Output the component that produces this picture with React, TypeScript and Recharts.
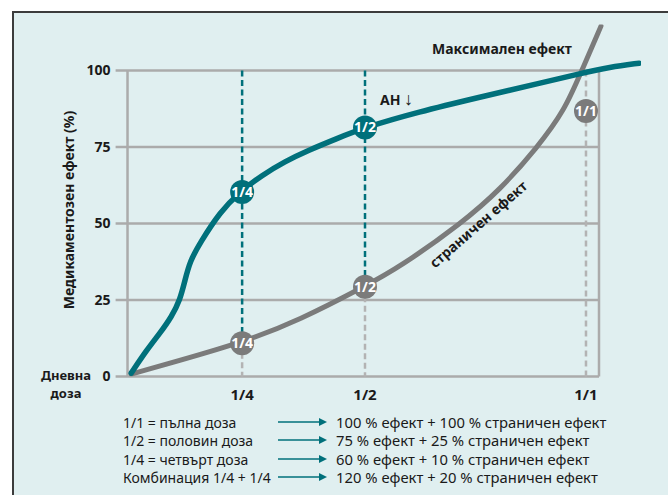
import React from "react";
import { LineChart, Line, XAxis, YAxis, ReferenceLine, ReferenceDot } from "recharts";

// x = daily dose (position on the schematic axis), y = drug effect in %
const doseTicks = [0.25, 0.518, 1];
const doseLabels = ["1/4", "1/2", "1/1"];
const effectTicks = [0, 25, 50, 75, 100];

const effectDose = [0.008, 0.042, 0.071, 0.096, 0.1145, 0.1254, 0.1363, 0.158, 0.2017, 0.245, 0.2933, 0.3435, 0.394, 0.457, 0.518, 0.633, 0.769, 0.9, 0.987, 1.052, 1.116];
const effectValue = [1.1, 8.7, 14.2, 19.5, 25, 31.5, 37.7, 43.6, 53.8, 60.3, 65.8, 70.3, 73.9, 77.8, 81.4, 86.4, 91.3, 95.9, 99, 101.1, 102.4];

const sideDose = [0.008, 0.2497, 0.376, 0.5158, 0.5943, 0.7296, 0.8124, 0.8931, 0.9542, 0.9913, 1.0327];
const sideValue = [0.8, 10.9, 18.5, 29.3, 35.8, 50.2, 61, 74.7, 87.1, 100.2, 114.5];

const markerDose = [0.25, 0.518];
const markerLabels = ["1/4", "1/2"];
const markerEffect = [60.3, 81.4];
const markerSide = [10.9, 29.3];
const fullDoseSide = 86.8;

const legendLeft = ["1/1 = пълна доза", "1/2 = половин доза", "1/4 = четвърт доза", "Комбинация 1/4 + 1/4"];
const legendRight = [
  "100 % ефект + 100 % страничен ефект",
  "75 % ефект + 25 % страничен ефект",
  "60 % ефект + 10 % страничен ефект",
  "120 % ефект + 20 % страничен ефект",
];

const effectData = effectDose.map((d, i) => ({ dose: d, v: effectValue[i] }));
const sideData = sideDose.map((d, i) => ({ dose: d, v: sideValue[i] }));

const TEAL = "#00707b";
const GREY = "#7b7b7b";
const GRID = "#ababab";
const FONT = "'Noto Sans', 'Liberation Sans', sans-serif";
const X_MIN = -0.026;
const X_END = 1.0284;

const bold = { fontFamily: FONT, fontWeight: 700, fontSize: 14, fill: "#1a1a1a" };
const dotLabel = { position: "center" as const, fill: "#fff", fontFamily: FONT, fontWeight: 700, fontSize: 14 };

export default function App() {
  return (
    <div lang="bg" style={{ position: "absolute", left: 0, top: 0, width: 668, height: 495, background: "#fff", overflow: "hidden", fontFamily: FONT }}>
      <div style={{ position: "absolute", left: 12, top: 11, width: 700, height: 600, border: "2px solid #3c3c3c", background: "#e0eff0" }} />
      <div style={{ position: "absolute", left: 0, top: 0 }}>
        <LineChart width={668} height={495} margin={{ top: 24.6, right: 27, bottom: 88.5, left: 55.6 }}>
          <XAxis
            type="number"
            dataKey="dose"
            domain={[X_MIN, 1.12]}
            ticks={doseTicks}
            tickFormatter={(v: number) => doseLabels[doseTicks.indexOf(v)]}
            axisLine={false}
            tickLine={false}
            tickMargin={7}
            height={30}
            allowDataOverflow
            tick={{ ...bold, fontSize: 15 }}
          />
          <YAxis
            type="number"
            dataKey="v"
            domain={[0, 115]}
            ticks={effectTicks}
            axisLine={false}
            tickLine={false}
            tickSize={0}
            tickMargin={5}
            width={60}
            allowDataOverflow
            tick={bold}
          />
          {effectTicks.map((t) => (
            <ReferenceLine key={t} segment={[{ x: X_MIN, y: t }, { x: X_END, y: t }]} stroke={GRID} strokeWidth={2.5} />
          ))}
          <ReferenceLine segment={[{ x: 0, y: 0 }, { x: 0, y: 100 }]} stroke={GRID} strokeWidth={2.5} />
          <ReferenceLine segment={[{ x: X_END, y: 0 }, { x: X_END, y: 100 }]} stroke={GRID} strokeWidth={2.5} />
          {markerDose.map((d, i) => (
            <ReferenceLine key={"t" + i} segment={[{ x: d, y: 100 }, { x: d, y: markerSide[i] }]} stroke={TEAL} strokeWidth={2.5} strokeDasharray="6 3.5" />
          ))}
          {markerDose.map((d, i) => (
            <ReferenceLine key={"g" + i} segment={[{ x: d, y: markerSide[i] }, { x: d, y: 0 }]} stroke="#b3b3b3" strokeWidth={2.5} strokeDasharray="6 3.5" />
          ))}
          <ReferenceLine segment={[{ x: 1, y: 100 }, { x: 1, y: 0 }]} stroke="#b3b3b3" strokeWidth={2.5} strokeDasharray="6 4" />
          <Line data={sideData} dataKey="v" type="basis" stroke={GREY} strokeWidth={5} dot={false} isAnimationActive={false} strokeLinecap="round" />
          <Line data={effectData} dataKey="v" type="basis" stroke={TEAL} strokeWidth={5.5} dot={false} isAnimationActive={false} strokeLinecap="round" />
          {markerDose.map((d, i) => (
            <ReferenceDot key={"ds" + i} x={d} y={markerSide[i]} r={12} fill={GREY} stroke="none" label={{ ...dotLabel, value: markerLabels[i] }} />
          ))}
          {markerDose.map((d, i) => (
            <ReferenceDot key={"de" + i} x={d} y={markerEffect[i]} r={12} fill={TEAL} stroke="none" label={{ ...dotLabel, value: markerLabels[i] }} />
          ))}
          <ReferenceDot x={1} y={fullDoseSide} r={12} fill={GREY} stroke="none" label={{ ...dotLabel, value: "1/1" }} />
        </LineChart>
      </div>

      {/* annotations */}
      <div style={{ position: "absolute", left: 502, top: 48, transform: "translate(-50%,-50%)", fontWeight: 700, fontSize: 14, color: "#1a1a1a", whiteSpace: "nowrap" }}>Максимален ефект</div>
      <div style={{ position: "absolute", left: 380, top: 98, transform: "translateY(-50%)", fontWeight: 700, fontSize: 14, color: "#1a1a1a", whiteSpace: "nowrap" }}>
        АН <span style={{ fontWeight: 400, fontSize: 18 }}>↓</span>
      </div>
      <div style={{ position: "absolute", left: 478, top: 224, transform: "translate(-50%,-50%) rotate(-41deg)", fontWeight: 700, fontSize: 14, color: "#1a1a1a", whiteSpace: "nowrap" }}>страничен ефект</div>
      <div style={{ position: "absolute", left: 68, top: 210, transform: "translate(-50%,-50%) rotate(-90deg)", fontWeight: 700, fontSize: 14, color: "#1a1a1a", whiteSpace: "nowrap" }}>Медикаментозен ефект (%)</div>
      <div style={{ position: "absolute", left: 66, top: 374.5, transform: "translate(-50%,-50%)", fontWeight: 700, fontSize: 13, lineHeight: "14px", color: "#1a1a1a", whiteSpace: "nowrap" }}>Дневна</div>
      <div style={{ position: "absolute", left: 66, top: 393, transform: "translate(-50%,-50%)", fontWeight: 700, fontSize: 13, lineHeight: "14px", color: "#1a1a1a", whiteSpace: "nowrap" }}>доза</div>

      {/* legend */}
      {legendLeft.map((t, i) => (
        <React.Fragment key={i}>
          <div style={{ position: "absolute", left: 123, top: 421.5 + i * 18.6, transform: "translateY(-50%)", fontSize: 14, lineHeight: "17px", color: "#1a1a1a", whiteSpace: "nowrap" }}>{t}</div>
          <svg style={{ position: "absolute", left: 277, top: 421.5 + i * 18.6 - 6 }} width={52} height={12}>
            <line x1={1} y1={6} x2={44} y2={6} stroke={TEAL} strokeWidth={1.6} />
            <polygon points="42,2 50,6 42,10" fill={TEAL} />
          </svg>
          <div style={{ position: "absolute", left: 336, top: 421.5 + i * 18.6, transform: "translateY(-50%)", fontSize: 14.8, lineHeight: "17px", color: "#1a1a1a", whiteSpace: "nowrap" }}>{legendRight[i]}</div>
        </React.Fragment>
      ))}
    </div>
  );
}
